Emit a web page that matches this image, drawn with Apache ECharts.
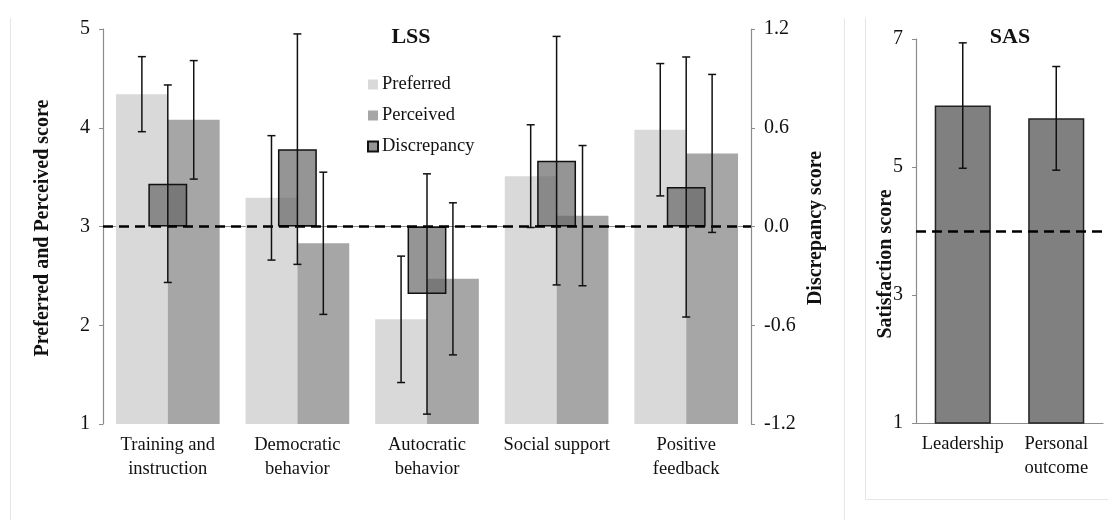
<!DOCTYPE html>
<html>
<head>
<meta charset="utf-8">
<script src="https://cdn.jsdelivr.net/npm/echarts@6/dist/echarts.min.js"></script>
<style>
html,body{margin:0;padding:0;background:#fff;}
#chart{width:1108px;height:520px;}
</style>
</head>
<body>
<div id="chart"></div>
<script>
// ---- Data ----
const lssCategories = ['Training and\ninstruction', 'Democratic\nbehavior', 'Autocratic\nbehavior', 'Social support', 'Positive\nfeedback'];
const preferredMean = [4.34, 3.29, 2.06, 3.51, 3.98];
const preferredSD   = [0.38, 0.63, 0.64, 0.52, 0.67];
const perceivedMean = [4.08, 2.83, 2.47, 3.11, 3.74];
const perceivedSD   = [0.60, 0.72, 0.77, 0.71, 0.80];
const discrepancyMean = [0.26, 0.47, -0.41, 0.40, 0.24];
const discrepancySD   = [0.60, 0.70, 0.73, 0.755, 0.79];
const lssNeutral = 3;

const sasCategories = ['Leadership', 'Personal\noutcome'];
const sasMean = [5.96, 5.76];
const sasSD   = [0.98, 0.81];
const sasNeutral = 4;

const FONT = 'Liberation Serif';

function errorSeries(name, means, sds, xi, yi, offFrac) {
  return {
    type: 'custom', name: name, xAxisIndex: xi, yAxisIndex: yi, z: 10, silent: true,
    data: means.map((m, i) => [i, m - sds[i], m + sds[i]]),
    encode: { x: 0, y: [1, 2] },
    renderItem: function (params, api) {
      const i = api.value(0);
      const lo = api.coord([i, api.value(1)]);
      const hi = api.coord([i, api.value(2)]);
      const bw = api.size([1, 0])[0];
      const x = lo[0] + offFrac * bw;
      const h = 4;
      const st = { stroke: '#111', lineWidth: 1.5 };
      return { type: 'group', children: [
        { type: 'line', shape: { x1: x, y1: lo[1], x2: x, y2: hi[1] }, style: st },
        { type: 'line', shape: { x1: x - h, y1: lo[1], x2: x + h, y2: lo[1] }, style: st },
        { type: 'line', shape: { x1: x - h, y1: hi[1], x2: x + h, y2: hi[1] }, style: st }
      ]};
    }
  };
}

const catLabelStyle = { fontFamily: FONT, fontSize: 18.5, color: '#111' };
const tickLabelStyle = { fontFamily: FONT, fontSize: 20, color: '#111' };
const axisLineStyle = { show: true, lineStyle: { color: '#8c8c8c', width: 1.2 } };
const dashed = { color: '#000', type: [10, 6], width: 2.6 };

const chart = echarts.init(document.getElementById('chart'));
chart.setOption({
  animation: false,
  backgroundColor: '#fff',
  grid: [
    { left: 103, right: 357, top: 29, bottom: 96 },
    { left: 916, right: 5, top: 39, bottom: 97 }
  ],
  legend: {
    data: ['Preferred', 'Perceived', 'Discrepancy'],
    orient: 'vertical', left: 362, top: 70,
    itemWidth: 10, itemHeight: 10, itemGap: 12, icon: 'rect',
    textStyle: { fontFamily: FONT, fontSize: 18.5, color: '#111', padding: [0, 0, 0, -1] },
    selectedMode: false
  },
  xAxis: [
    { type: 'category', gridIndex: 0, data: lssCategories,
      axisLine: axisLineStyle, axisTick: { show: false },
      axisLabel: Object.assign({ margin: 9, lineHeight: 24, interval: 0 }, catLabelStyle) },
    { type: 'category', gridIndex: 0, data: lssCategories, show: false },
    { type: 'category', gridIndex: 1, data: sasCategories,
      axisLine: axisLineStyle, axisTick: { show: false },
      axisLabel: Object.assign({ margin: 9, lineHeight: 24, interval: 0 }, catLabelStyle) }
  ],
  yAxis: [
    { type: 'value', gridIndex: 0, min: 1, max: 5, interval: 1,
      axisLine: axisLineStyle, axisTick: { show: true, length: 4, lineStyle: { color: '#8c8c8c' } },
      splitLine: { show: false }, axisLabel: Object.assign({ margin: 13 }, tickLabelStyle) },
    { type: 'value', gridIndex: 0, position: 'right', min: -1.2, max: 1.2, interval: 0.6,
      axisLine: axisLineStyle, axisTick: { show: true, length: 4, lineStyle: { color: '#8c8c8c' } },
      splitLine: { show: false },
      axisLabel: Object.assign({ margin: 13, formatter: v => v.toFixed(1) }, tickLabelStyle) },
    { type: 'value', gridIndex: 1, min: 1, max: 7, interval: 2,
      axisLine: axisLineStyle, axisTick: { show: true, length: 4, lineStyle: { color: '#8c8c8c' } },
      splitLine: { show: false }, axisLabel: Object.assign({ margin: 13 }, tickLabelStyle) }
  ],
  series: [
    { type: 'bar', name: 'Preferred', xAxisIndex: 0, yAxisIndex: 0, data: preferredMean,
      barGap: '0%', barCategoryGap: '20%', itemStyle: { color: '#d9d9d9' }, z: 2,
      markLine: { silent: true, symbol: 'none', label: { show: false }, lineStyle: dashed, z: 6,
        data: [{ yAxis: lssNeutral }] } },
    { type: 'bar', name: 'Perceived', xAxisIndex: 0, yAxisIndex: 0, data: perceivedMean,
      barGap: '0%', barCategoryGap: '20%', itemStyle: { color: '#a6a6a6' }, z: 2 },
    { type: 'bar', name: 'Discrepancy', xAxisIndex: 1, yAxisIndex: 1, data: discrepancyMean,
      barWidth: '30%', z: 3,
      itemStyle: { color: 'rgba(102,102,102,0.69)', borderColor: '#111', borderWidth: 1.5 } },
    errorSeries('Preferred SD', preferredMean, preferredSD, 0, 0, -0.2),
    errorSeries('Perceived SD', perceivedMean, perceivedSD, 0, 0, 0.2),
    errorSeries('Discrepancy SD', discrepancyMean, discrepancySD, 1, 1, 0),
    { type: 'bar', name: 'SAS', xAxisIndex: 2, yAxisIndex: 2, data: sasMean,
      barWidth: '60%', z: 2,
      itemStyle: { color: '#808080', borderColor: '#222', borderWidth: 1.5 },
      markLine: { silent: true, symbol: 'none', label: { show: false }, lineStyle: dashed, z: 6,
        data: [{ yAxis: sasNeutral }] } },
    errorSeries('SAS SD', sasMean, sasSD, 2, 2, 0)
  ],
  graphic: [
    { type: 'line', shape: { x1: 10.5, y1: 18, x2: 10.5, y2: 520 }, style: { stroke: '#e6e6e6', lineWidth: 1 }, silent: true },
    { type: 'line', shape: { x1: 844.5, y1: 18, x2: 844.5, y2: 520 }, style: { stroke: '#e6e6e6', lineWidth: 1 }, silent: true },
    { type: 'line', shape: { x1: 865.5, y1: 18, x2: 865.5, y2: 499.5 }, style: { stroke: '#e6e6e6', lineWidth: 1 }, silent: true },
    { type: 'line', shape: { x1: 865.5, y1: 499.5, x2: 1108, y2: 499.5 }, style: { stroke: '#e6e6e6', lineWidth: 1 }, silent: true },
    { type: 'text', x: 411, y: 37, silent: true,
      style: { text: 'LSS', fontFamily: FONT, fontWeight: 'bold', fontSize: 22, fill: '#111', textAlign: 'center', textVerticalAlign: 'middle' } },
    { type: 'text', x: 1010, y: 37, silent: true,
      style: { text: 'SAS', fontFamily: FONT, fontWeight: 'bold', fontSize: 22, fill: '#111', textAlign: 'center', textVerticalAlign: 'middle' } },
    { type: 'text', x: 43, y: 228, rotation: Math.PI / 2, silent: true,
      style: { text: 'Preferred and Perceived score', fontFamily: FONT, fontWeight: 'bold', fontSize: 20, fill: '#111', textAlign: 'center', textVerticalAlign: 'middle' } },
    { type: 'text', x: 816, y: 228, rotation: Math.PI / 2, silent: true,
      style: { text: 'Discrepancy score', fontFamily: FONT, fontWeight: 'bold', fontSize: 20, fill: '#111', textAlign: 'center', textVerticalAlign: 'middle' } },
    { type: 'text', x: 886, y: 264, rotation: Math.PI / 2, silent: true,
      style: { text: 'Satisfaction score', fontFamily: FONT, fontWeight: 'bold', fontSize: 20, fill: '#111', textAlign: 'center', textVerticalAlign: 'middle' } }
  ]
});
</script>
</body>
</html>
